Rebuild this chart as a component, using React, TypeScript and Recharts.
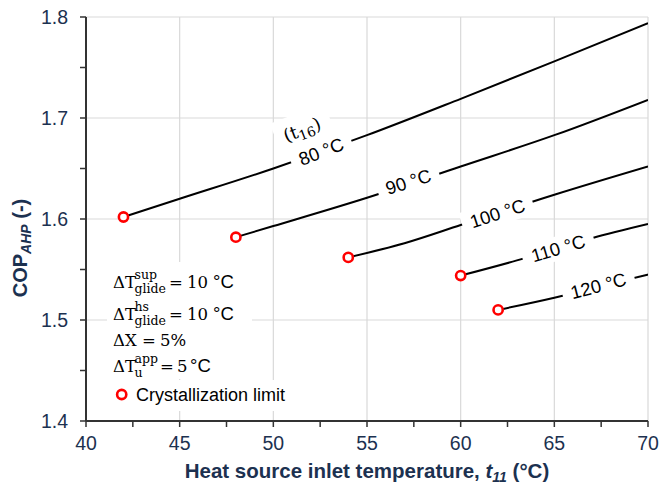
import React from 'react';
import {
  ComposedChart,
  Line,
  Scatter,
  XAxis,
  YAxis,
  CartesianGrid,
  ReferenceDot,
  Customized,
  Label,
} from 'recharts';

// Heat source inlet temperature t11 (°C) and COP of the absorption heat pump,
// one curve per generator outlet temperature t16.
const t11_80 = [42, 45, 50, 55, 60, 65, 70];
const cop_80 = [1.602, 1.62, 1.65, 1.683, 1.719, 1.756, 1.794];

const t11_90 = [48, 50, 55, 60, 65, 70];
const cop_90 = [1.582, 1.593, 1.621, 1.652, 1.683, 1.718];

const t11_100 = [54, 57, 60, 65, 70];
const cop_100 = [1.562, 1.576, 1.594, 1.624, 1.652];

const t11_110 = [60, 63, 65, 67, 70];
const cop_110 = [1.544, 1.559, 1.57, 1.581, 1.595];

const t11_120 = [62, 65, 68, 70];
const cop_120 = [1.51, 1.522, 1.536, 1.545];

const curveNames = ['80 °C', '90 °C', '100 °C', '110 °C', '120 °C'];

// Where each curve's t16 tag sits (t11, COP) and its tilt
const tagT11 = [52.55, 57.2, 61.96, 65.2, 67.35];
const tagCop = [1.667, 1.637, 1.6056, 1.571, 1.534];
const tagAngle = [-21, -17.6, -18, -16.5, -14.5];

const xTicks = [40, 42.5, 45, 47.5, 50, 52.5, 55, 57.5, 60, 62.5, 65, 67.5, 70];
const xMajor = [40, 45, 50, 55, 60, 65, 70];
const yTicks = [1.4, 1.45, 1.5, 1.55, 1.6, 1.65, 1.7, 1.75, 1.8];
const yMajor = [1.4, 1.5, 1.6, 1.7, 1.8];

const toRows = (xs: number[], ys: number[]) => xs.map((x, i) => ({ x, y: ys[i] }));

const curves = [
  toRows(t11_80, cop_80),
  toRows(t11_90, cop_90),
  toRows(t11_100, cop_100),
  toRows(t11_110, cop_110),
  toRows(t11_120, cop_120),
];

// Crystallization limit = first point of each curve
const limitPoints = curves.map((c) => c[0]);

const NAVY = '#1c3150';
const SANS = '"Liberation Sans", Arial, sans-serif';
const MATH = '"DejaVu Serif", serif';

const isMajor = (v: number, step: number) =>
  Math.abs(v / step - Math.round(v / step)) < 1e-6;

const LimitMarker = (props: any) => {
  const { cx, cy } = props;
  if (cx == null || cy == null) return null;
  return <circle cx={cx} cy={cy} r={4.6} fill="#fff" stroke="#ff0000" strokeWidth={2.6} />;
};

const CurveTag = (props: any) => {
  const { cx, cy, text, angle, withNote } = props;
  if (cx == null || cy == null) return null;
  const w = text.length * 10 + 14;
  return (
    <g transform={`translate(${cx},${cy}) rotate(${angle})`}>
      {withNote && <rect x={-38} y={-44} width={58} height={31} fill="#fff" />}
      <rect x={-w / 2} y={-12} width={w} height={24} fill="#fff" />
      <text
        x={0}
        y={0}
        dy="0.36em"
        textAnchor="middle"
        fontFamily={SANS}
        fontSize={18.5}
        fill="#000"
      >
        {text}
      </text>
      {withNote && (
        <text x={-10} y={-21} textAnchor="middle" fontFamily={MATH} fontSize={18}>
          (t
          <tspan fontSize={13.5} dy={4}>
            16
          </tspan>
          <tspan dy={-4}>)</tspan>
        </text>
      )}
    </g>
  );
};

const noteRows = [
  { base: 'ΔT', sup: 'sup', sub: 'glide', value: '10', unit: '°C' },
  { base: 'ΔT', sup: 'hs', sub: 'glide', value: '10', unit: '°C' },
  { base: 'ΔX', sup: '', sub: '', value: '5%', unit: '' },
  { base: 'ΔT', sup: 'app', sub: 'u', value: '5', unit: '°C' },
];

const Conditions = () => {
  const x0 = 113;
  const baselines = [288, 320, 346, 372];
  const eqX = [169, 169, 142, 160];
  const valX = [187, 187, 160, 177];
  const unitX = [213, 213, 0, 190];
  return (
    <g>
      <rect x={107} y={262} width={145} height={117} fill="#fff" />
      <rect x={108} y={380} width={186} height={31} fill="#fff" />
      {noteRows.map((r, i) => {
        const b = baselines[i];
        return (
          <g key={i} fill="#000">
            <text x={x0} y={b} fontFamily={MATH} fontSize={16.5}>
              {r.base}
            </text>
            {r.sup && (
              <text x={134.5} y={b - 9} fontFamily={MATH} fontSize={12.5}>
                {r.sup}
              </text>
            )}
            {r.sub && (
              <text x={134.5} y={b + 5} fontFamily={MATH} fontSize={12.5}>
                {r.sub}
              </text>
            )}
            <text x={eqX[i]} y={b} fontFamily={MATH} fontSize={16.5}>
              =
            </text>
            <text x={valX[i]} y={b} fontFamily={MATH} fontSize={16.5}>
              {r.value}
            </text>
            {r.unit && (
              <text x={unitX[i]} y={b} fontFamily={SANS} fontSize={18.5}>
                {r.unit}
              </text>
            )}
          </g>
        );
      })}
      <circle cx={121.7} cy={394.5} r={4.6} fill="#fff" stroke="#ff0000" strokeWidth={2.6} />
      <text x={136} y={400.5} fontFamily={SANS} fontSize={18} fill="#000">
        Crystallization limit
      </text>
    </g>
  );
};

const XTitle = (props: any) => {
  const vb = props.viewBox || { x: 86, width: 562, y: 421 };
  return (
    <text
      x={vb.x + vb.width / 2}
      y={478}
      textAnchor="middle"
      fontFamily={SANS}
      fontSize={20.5}
      fontWeight="bold"
      fill={NAVY}
    >
      Heat source inlet temperature,{' '}
      <tspan fontStyle="italic">t</tspan>
      <tspan fontStyle="italic" fontSize={14} dy={4}>
        11
      </tspan>
      <tspan dy={-4}> (°C)</tspan>
    </text>
  );
};

const YTitle = () => (
  <text
    transform="translate(27,248) rotate(-90)"
    textAnchor="middle"
    fontFamily={SANS}
    fontSize={20}
    fontWeight="bold"
    fill={NAVY}
  >
    COP
    <tspan fontStyle="italic" fontSize={14} dy={4}>
      AHP
    </tspan>
    <tspan dy={-4}> (-)</tspan>
  </text>
);

export default function App() {
  return (
    <div style={{ position: 'absolute', left: 0, top: 0, width: 660, height: 486, background: '#fff' }}>
      <ComposedChart
        width={660}
        height={486}
        margin={{ top: 17, right: 12, bottom: 0, left: 0 }}
      >
        <CartesianGrid
          stroke="#d9d9d9"
          strokeWidth={1.2}
          horizontalValues={yMajor}
          verticalValues={xMajor}
        />
        <XAxis
          type="number"
          dataKey="x"
          domain={[40, 70]}
          ticks={xTicks}
          interval={0}
          allowDataOverflow
          height={65}
          tickSize={6}
          tickMargin={9}
          axisLine={{ stroke: '#333', strokeWidth: 2 }}
          tickLine={{ stroke: '#333', strokeWidth: 1.5 }}
          tick={{ fill: NAVY, fontSize: 19.5, fontFamily: SANS }}
          tickFormatter={(v: number) => (isMajor(v, 5) ? String(v) : '')}
        >
          <Label content={<XTitle />} />
        </XAxis>
        <YAxis
          type="number"
          domain={[1.4, 1.8]}
          ticks={yTicks}
          interval={0}
          allowDataOverflow
          width={86}
          tickSize={6}
          tickMargin={12}
          axisLine={{ stroke: '#333', strokeWidth: 2 }}
          tickLine={{ stroke: '#333', strokeWidth: 1.5 }}
          tick={{ fill: NAVY, fontSize: 19.5, fontFamily: SANS }}
          tickFormatter={(v: number) => (isMajor(v, 0.1) ? v.toFixed(1) : '')}
        >
          <Label content={<YTitle />} />
        </YAxis>
        <Customized component={<Conditions />} />
        {curves.map((data, i) => (
          <Line
            key={curveNames[i]}
            data={data}
            dataKey="y"
            type="monotone"
            stroke="#000"
            strokeWidth={2}
            dot={false}
            activeDot={false}
            isAnimationActive={false}
          />
        ))}
        {curveNames.map((name, i) => (
          <ReferenceDot
            key={'tag' + name}
            x={tagT11[i]}
            y={tagCop[i]}
            r={0}
            ifOverflow="visible"
            shape={(p: any) => (
              <CurveTag {...p} text={name} angle={tagAngle[i]} withNote={i === 0} />
            )}
          />
        ))}
        <Scatter
          data={limitPoints}
          dataKey="y"
          shape={<LimitMarker />}
          isAnimationActive={false}
        />
      </ComposedChart>
    </div>
  );
}
